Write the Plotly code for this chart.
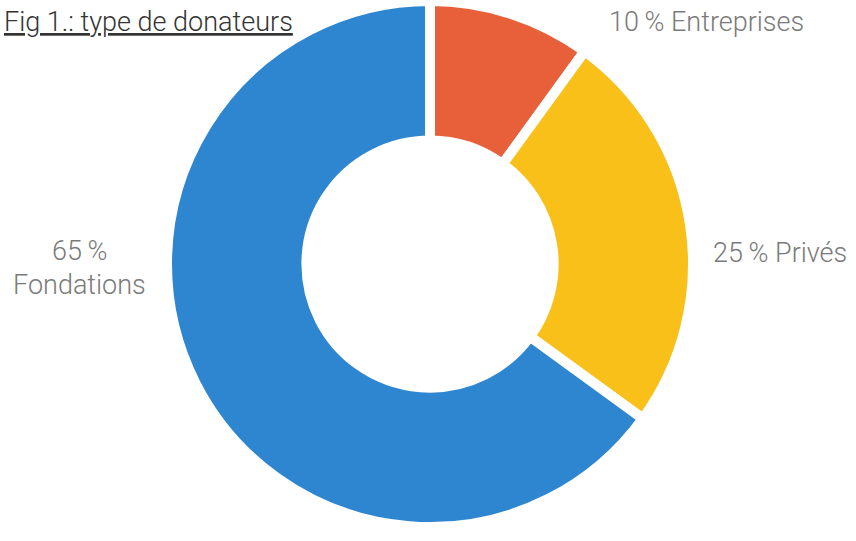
import plotly.graph_objects as go

W, H = 856, 541
labels = ["Entreprises", "Privés", "Fondations"]
values = [10, 25, 65]
colors = ["#e8603a", "#f9c01a", "#2d86cf"]
title_text = "Fig 1.: type de donateurs"

fig = go.Figure()
cx, cy, r = 430, 264, 263
fig.add_trace(go.Pie(
    labels=labels, values=values, sort=False, direction="clockwise", rotation=0,
    hole=0.47, textinfo="none", hoverinfo="label+percent",
    marker=dict(colors=colors, line=dict(color="white", width=10)),
    domain=dict(x=[(cx - r) / W, (cx + r) / W], y=[1 - (cy + r) / H, 1 - (cy - r) / H]),
    showlegend=False,
))

def px(x):
    return x / W

def py(y):
    return 1 - y / H

FAM = "Roboto"
lab_font = dict(family=FAM, size=27, color="#7a7a7a", weight=300)
ann = [
    dict(text=title_text, x=px(2), y=py(22), xanchor="left", yanchor="middle",
         font=dict(family=FAM, size=27, color="#333333", weight=300, lineposition="under")),
    dict(text=f"{values[0]}\u2009% {labels[0]}", x=px(607), y=py(22), xanchor="left", yanchor="middle", font=lab_font),
    dict(text=f"{values[1]}\u2009% {labels[1]}", x=px(711), y=py(253), xanchor="left", yanchor="middle", font=lab_font),
    dict(text=f"{values[2]}\u2009%", x=px(79), y=py(251), xanchor="center", yanchor="middle", font=lab_font),
    dict(text=labels[2], x=px(79), y=py(285), xanchor="center", yanchor="middle", font=lab_font),
]
for a in ann:
    a.update(xref="paper", yref="paper", showarrow=False)

fig.update_layout(
    width=W, height=H, margin=dict(l=0, r=0, t=0, b=0),
    paper_bgcolor="white", plot_bgcolor="white", annotations=ann,
)
fig.write_html("out.html", config={"displayModeBar": False},
               post_script="document.body.style.margin='0';")
